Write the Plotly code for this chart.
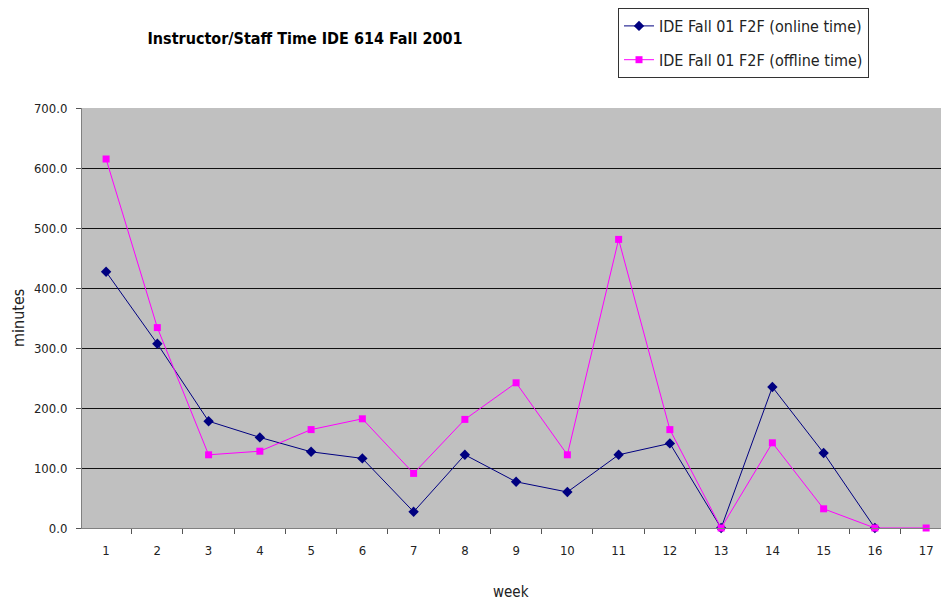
import plotly.graph_objects as go

weeks = [str(i) for i in range(1, 18)]
online_time = [427, 307, 178, 151, 127, 116, 27, 122, 77, 60, 122, 141, 0, 235, 125, 0]
offline_time = [615, 334, 122, 128, 164, 182, 91, 181, 242, 122, 481, 164, 0, 142, 32, 0, 0]
y_ticks = [0, 100, 200, 300, 400, 500, 600, 700]

FONT = "DejaVu Sans Condensed, Liberation Sans Narrow, Arial Narrow, sans-serif"

fig = go.Figure()
fig.add_trace(go.Scatter(
    x=weeks[:len(online_time)], y=online_time, mode="lines+markers",
    name="IDE Fall 01 F2F (online time)", legendgroup="online",
    line=dict(color="#000080", width=1),
    marker=dict(symbol="diamond", size=8, color="#000080"),
    cliponaxis=False,
))
fig.add_trace(go.Scatter(
    x=weeks, y=offline_time, mode="lines+markers",
    name="IDE Fall 01 F2F (offline time)", legendgroup="offline",
    line=dict(color="#FF00FF", width=1),
    marker=dict(symbol="square", size=7, color="#FF00FF"),
    cliponaxis=False,
))

fig.update_layout(
    width=941, height=601,
    margin=dict(l=82, r=0, t=108, b=73),
    paper_bgcolor="white",
    plot_bgcolor="#C0C0C0",
    font=dict(family=FONT, size=12, color="#222222"),
    title=dict(text="<b>Instructor/Staff Time IDE 614 Fall 2001</b>",
               x=305/941, y=1-38/601, xanchor="center", yanchor="middle",
               xref="container", yref="container",
               font=dict(family=FONT, size=16, color="black")),
    legend=dict(x=(618-82)/859, y=1+(108-8)/420, xanchor="left", yanchor="top",
                bgcolor="white", bordercolor="#333333", borderwidth=1,
                font=dict(family=FONT, size=16, color="#222222"),
                itemwidth=30, tracegroupgap=10),
    showlegend=True,
)
fig.update_xaxes(
    type="category", range=[-0.47, 16.29],
    tickson="boundaries", ticks="outside", ticklen=5, tickcolor="#555555",
    ticklabelstandoff=10,
    showgrid=False, showline=True, linecolor="#808080", linewidth=1,
    tickfont=dict(family=FONT, size=13, color="#222222"),
)
fig.update_yaxes(
    range=[0, 700], tickvals=y_ticks, tickformat=".1f",
    ticks="outside", ticklen=5, tickcolor="#555555",
    ticklabelstandoff=6,
    showgrid=True, gridcolor="#111111", gridwidth=1,
    showline=True, linecolor="#808080", linewidth=1,
    zeroline=False,
    tickfont=dict(family=FONT, size=13, color="#222222"),
)
fig.add_annotation(text="minutes", xref="paper", yref="paper",
                   x=(18-82)/859, y=0.5, textangle=-90, showarrow=False,
                   xanchor="center", yanchor="middle",
                   font=dict(family=FONT, size=16, color="#222222"))
fig.add_annotation(text="week", xref="paper", yref="paper",
                   x=(511-82)/859, y=-(592-528)/420, showarrow=False,
                   xanchor="center", yanchor="middle",
                   font=dict(family=FONT, size=15, color="#222222"))

fig.write_html("out.html", config={"displayModeBar": False},
               post_script="document.body.style.margin='0';document.body.style.overflow='hidden';")
